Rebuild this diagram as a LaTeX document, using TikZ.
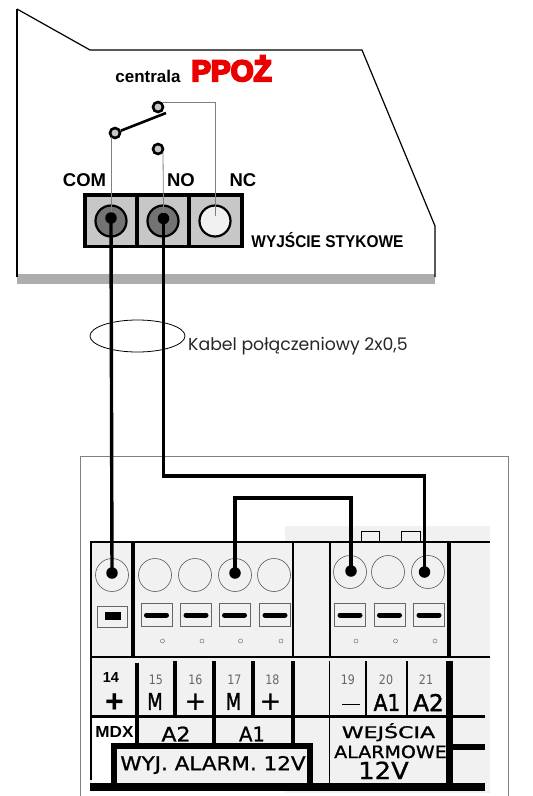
\documentclass[tikz,border=0pt]{standalone}
\usepackage{fontspec}
\usetikzlibrary{shapes.geometric}
\setmainfont{Liberation Sans}
\newfontfamily\heavy[FakeBold=7]{Liberation Sans Bold}
\newfontfamily\gothic{Poppins}
\newfontfamily\tech[FakeBold=1]{DejaVu Sans}
\newfontfamily\techb[FakeBold=2]{DejaVu Sans}
\newfontfamily\technum{DejaVu Sans}
\definecolor{boardgrey}{gray}{0.945}
\definecolor{termgrey}{gray}{0.78}
\definecolor{coregrey}{gray}{0.45}
\definecolor{bandgrey}{gray}{0.68}
\definecolor{thingrey}{gray}{0.5}
\definecolor{pporred}{RGB}{235,0,0}
\tikzset{
  x=1pt,y=-1pt,
  housing/.style={line width=1.2pt,black},
  housingthick/.style={line width=2.6pt,black},
  wire/.style={line width=3.4pt,black,line join=miter},
  thinwire/.style={line width=0.8pt,thingrey},
  contact/.style={circle,draw=black,line width=2.6pt,fill=termgrey,inner sep=0pt,minimum size=10pt},
  term/.style={circle,draw=black,line width=2.2pt,inner sep=0pt,minimum size=31pt},
  dot/.style={circle,fill=black,inner sep=0pt,minimum size=11.5pt},
  screw/.style={circle,draw=black!65,line width=0.6pt,fill=boardgrey,inner sep=0pt,minimum size=33pt},
  slotbox/.style={draw=black!60,line width=0.8pt,fill=boardgrey,minimum width=31pt,minimum height=23pt,inner sep=0pt},
  pinmark/.style={circle,draw=black!55,line width=0.5pt,inner sep=0pt,minimum size=4pt},
  bar/.style={line width=5pt,black,line cap=round},
  bd/.style={line width=2.4pt,black},
  bdrow/.style={line width=3.2pt,black},
  bdthick/.style={line width=3.2pt,black},
  numlab/.style={inner sep=0pt,font=\technum\fontsize{13}{13}\selectfont,text=black!60},
  biglab/.style={inner sep=0pt,font=\techb\fontsize{23}{23}\selectfont},
  boldlab/.style={inner sep=0pt,font=\bfseries\fontsize{18.5}{18.5}\selectfont},
  pluslab/.style={inner sep=0pt,anchor=base,font=\fontsize{34}{34}\selectfont},
}
\begin{document}
\begin{tikzpicture}
\useasboundingbox (0,0) rectangle (533,796);
% ---------- top housing
\fill[bandgrey] (17,274) rectangle (435,284);
\coordinate (h1) at (17,277);
\coordinate (h2) at (17,9);
\coordinate (h3) at (90,50);
\coordinate (h4) at (362,50);
\coordinate (h5) at (435,226);
\coordinate (h6) at (435,277);
\draw[housing] (h2) -- (h3) -- (h4) -- (h5) -- (h6);
\draw[housingthick] (h1) -- (h2);
\node[inner sep=0pt,font=\bfseries\fontsize{17}{17}\selectfont] (lcentrala) at (148,76) {centrala};
\node[inner sep=0pt,text=pporred,font=\heavy\fontsize{29.5}{29.5}\selectfont,anchor=base] (lppoz) at (231.5,81) {PPOŻ};
% terminal block
\fill[black] (83,193) rectangle (244,248);
\fill[termgrey] (87,197) rectangle (135,245);
\fill[termgrey] (139,197) rectangle (187,245);
\fill[termgrey] (191,197) rectangle (240,245);
\node[term,fill=coregrey] (tcom) at (111,221) {};
\node[term,fill=coregrey] (tno) at (163,221) {};
\node[term,fill=boardgrey] (tnc) at (215,221) {};
\node[dot] (dcom) at (111,218) {};
\node[dot] (dno) at (163.5,218.5) {};
% switch
\node[contact] (sw1) at (115,133) {};
\node[contact] (sw2) at (158,107) {};
\node[contact] (sw3) at (158,149) {};
\coordinate (blade) at (166,113);
\coordinate (nc0) at (163,102);
\coordinate (nc1) at (215,102);
\coordinate (nc2) at (215,216);
\coordinate (c1) at (111,137);
\coordinate (c2) at (163,152);
\draw[line width=2.6pt,black] (sw1) -- (blade);
\draw[thinwire] (nc0) -- (nc1) -- (nc2);
\draw[thinwire] (c1) -- (dcom.north);
\draw[thinwire] (c2) -- (dno.north);
\node[boldlab] (lcom) at (84.5,180) {COM};
\node[boldlab] (lno) at (181,180) {NO};
\node[boldlab] (lnc) at (243,180) {NC};
\node[inner sep=0pt,font=\bfseries\fontsize{17}{17}\selectfont,anchor=base] (lwyj) at (327.5,247.5) {\scalebox{.91}[1]{WYJŚCIE STYKOWE}};
% ---------- cable label
\node[inner sep=0pt,font=\gothic\fontsize{17.3}{17.3}\selectfont,text=black!85,anchor=west] (lkabel) at (188,346) {Kabel połączeniowy 2x0,5};
% ---------- lower board
\draw[line width=0.8pt,black!50] (80,796) -- (80,456) -- (508,456) -- (508,796);
\fill[boardgrey] (285,526) rectangle (490,793);
\fill[boardgrey] (90,542) rectangle (490,790);
\fill[white] (92,717) rectangle (135,744);
\fill[white] (92,744) rectangle (111,783);
\draw[line width=0.9pt,black] (361,542) -- (361,531) -- (379,531) -- (379,542);
\draw[line width=0.9pt,black] (401,542) -- (401,531) -- (420,531) -- (420,542);
% main rules
\draw[line width=1.2pt] (90,542) -- (490,542);
\draw[line width=1.4pt] (91,657) -- (490,657);
\draw[bd] (91,542) -- (91,780);
\draw[bdthick] (133,542) -- (133,656);
\draw[bd] (293,542) -- (293,656);
\draw[bd] (330,542) -- (330,656);
\draw[bdthick] (449,542) -- (449,656);
\draw[line width=3pt] (91,716) -- (485,716);
% row 2 verticals
\draw[bdrow] (137,663) -- (137,745);
\draw[bdrow] (175,661) -- (175,716);
\draw[bdrow] (214,661) -- (214,745);
\draw[bdrow] (253,661) -- (253,716);
\draw[line width=4.5pt] (293,661) -- (293,746);
\draw[line width=1pt] (329,661) -- (329,787);
\draw[bd] (366,661) -- (366,716);
\draw[bd] (407,661) -- (407,716);
\draw[line width=7pt] (449.5,661) -- (449.5,787);
\draw[line width=5.5pt] (449,747) -- (485,747);
% WYJ box + bottom bar
\draw[line width=5.5pt] (114,785) -- (114,746) -- (310,746) -- (310,785);
\fill[black] (90,783) rectangle (485,791);
% screws
\node[screw] (s14) at (112,575) {};
\node[screw] (s15) at (155,575) {};
\node[screw] (s16) at (195,575) {};
\node[screw] (s17) at (235,575) {};
\node[screw] (s18) at (274,575) {};
\node[screw] (s19) at (350,572) {};
\node[screw] (s20) at (388,572) {};
\node[screw] (s21) at (428,572) {};
\node[dot] (w14) at (112,573) {};
\node[dot] (w17) at (235,573) {};
\node[dot] (w19) at (351,571) {};
\node[dot] (w21) at (424.5,572) {};
% slots
\node[slotbox,minimum width=30pt,minimum height=21pt] (b14) at (112,616.5) {};
\fill[black] (105,612) rectangle (121,620);
\foreach \n/\cx in {15/156.5,16/196,17/234.5,18/275,19/350,20/389.5,21/429}{
  \node[slotbox] (b\n) at (\cx,615) {};
  \draw[bar] ([xshift=-10pt]b\n.center) -- ([xshift=10pt]b\n.center);
  \node[pinmark] (p\n) at (\cx+6,641) {};
}
% wires
\coordinate (r1) at (300,476);
\coordinate (r2) at (300,498);
\draw[wire] (dcom.center) -- (w14.center);
\draw[wire] (dno.center) -- (dno.center |- r1) -- (r1 -| w21.center) -- (w21.center);
\draw[wire] (w17.center) -- (w17.center |- r2) -- (r2 -| w19.center) -- (w19.center);
% cable ellipse
\node[ellipse,draw=black,line width=0.8pt,inner sep=0pt,minimum width=95pt,minimum height=32pt] (ring) at (137.5,336) {};
% row labels
\node[inner sep=0pt,font=\bfseries\fontsize{14.5}{14.5}\selectfont] (n14) at (111,678) {14};
\node[pluslab,font=\bfseries\fontsize{32}{32}\selectfont] (plus14) at (114.5,712.5) {\smash{+}};
\node[numlab] (n15) at (156,680) {\scalebox{.85}[1]{15}};
\node[numlab] (n16) at (195.5,680) {\scalebox{.85}[1]{16}};
\node[numlab] (n17) at (234.5,680) {\scalebox{.85}[1]{17}};
\node[numlab] (n18) at (272.5,680) {\scalebox{.85}[1]{18}};
\node[numlab] (n19) at (348,680) {\scalebox{.85}[1]{19}};
\node[numlab] (n20) at (386,680) {\scalebox{.85}[1]{20}};
\node[numlab] (n21) at (426,680) {\scalebox{.85}[1]{21}};
\node[biglab] (m15) at (155,701.5) {\scalebox{.78}[1]{M}};
\node[pluslab] (p16t) at (195.5,713.5) {\smash{+}};
\node[biglab] (m17) at (233.5,701.5) {\scalebox{.78}[1]{M}};
\node[pluslab] (p18t) at (270.5,713.5) {\smash{+}};
\draw[line width=1.8pt] (342,704.5) -- (360,704.5);
\node[biglab] (a1b) at (387,702.5) {\scalebox{.88}[1]{A1}};
\node[biglab] (a2b) at (428.5,702.5) {A2};
\node[inner sep=0pt,font=\bfseries\fontsize{16}{16}\selectfont] (mdx) at (114.5,732) {\scalebox{1.07}[1]{MDX}};
\node[inner sep=0pt,font=\tech\fontsize{20}{20}\selectfont] (a2) at (176,734) {\scalebox{1.1}[1]{A2}};
\node[inner sep=0pt,font=\tech\fontsize{20}{20}\selectfont] (a1) at (252,734) {\scalebox{.98}[1]{A1}};
\node[inner sep=0pt,font=\tech\fontsize{19}{19}\selectfont] (lalarm) at (213,765) {\scalebox{1.13}[1]{WYJ. ALARM. 12V}};
\node[inner sep=0pt,font=\tech\fontsize{16}{16}\selectfont,anchor=base] (lwe) at (388.5,738) {\scalebox{1.38}[1]{WEJŚCIA}};
\node[inner sep=0pt,font=\tech\fontsize{17}{17}\selectfont,anchor=base] (lal) at (390.5,758) {\scalebox{1.12}[1]{ALARMOWE}};
\node[inner sep=0pt,font=\tech\fontsize{23.5}{23.5}\selectfont,anchor=base] (l12) at (383.5,779) {\scalebox{1.1}[1]{12V}};
\end{tikzpicture}
\end{document}
